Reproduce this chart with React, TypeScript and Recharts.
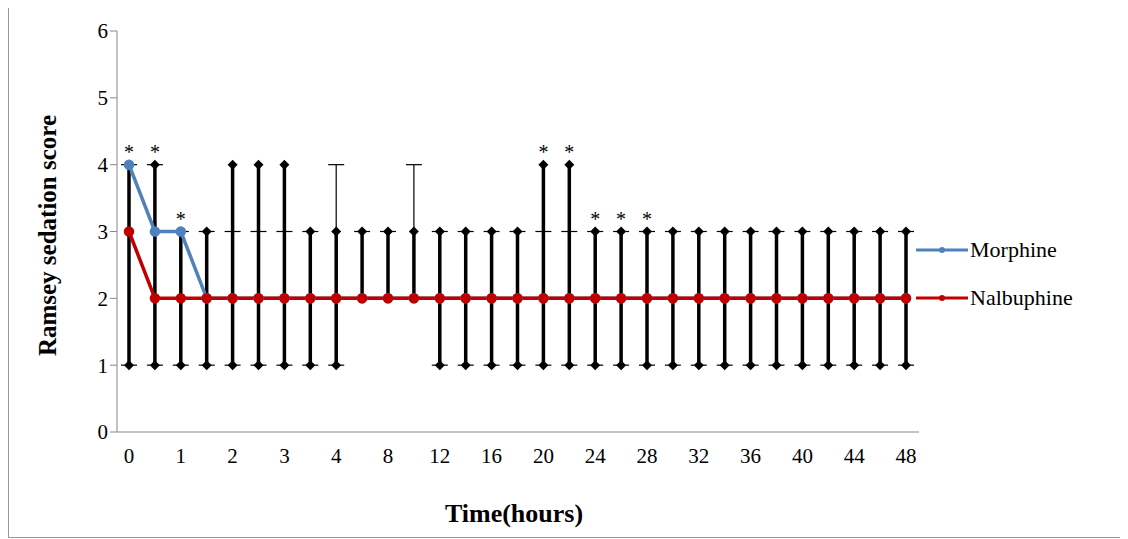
import React from 'react';
import { LineChart, Line, XAxis, YAxis, ErrorBar, Legend } from 'recharts';

const times = ['0', '0.5', '1', '1.5', '2', '2.5', '3', '3.5', '4', '6', '8', '10', '12', '14', '16', '18', '20', '22', '24', '26', '28', '30', '32', '34', '36', '38', '40', '42', '44', '46', '48'];
const morphine = [4, 3, 3, 2, 2, 2, 2, 2, 2, 2, 2, 2, 2, 2, 2, 2, 2, 2, 2, 2, 2, 2, 2, 2, 2, 2, 2, 2, 2, 2, 2];
const nalbuphine = [3, 2, 2, 2, 2, 2, 2, 2, 2, 2, 2, 2, 2, 2, 2, 2, 2, 2, 2, 2, 2, 2, 2, 2, 2, 2, 2, 2, 2, 2, 2];
const morphineHigh = [4, 4, 3, 3, 3, 3, 3, 3, 4, 3, 3, 4, 3, 3, 3, 3, 3, 3, 3, 3, 3, 3, 3, 3, 3, 3, 3, 3, 3, 3, 3];
const morphineLow = [1, 1, 1, 1, 1, 1, 1, 1, 1, 2, 2, 2, 1, 1, 1, 1, 1, 1, 1, 1, 1, 1, 1, 1, 1, 1, 1, 1, 1, 1, 1];
const nalbuphineHigh = [4, 4, 3, 3, 4, 4, 4, 3, 3, 3, 3, 3, 3, 3, 3, 3, 4, 4, 3, 3, 3, 3, 3, 3, 3, 3, 3, 3, 3, 3, 3];
const nalbuphineLow = [1, 1, 1, 1, 1, 1, 1, 1, 1, 2, 2, 2, 1, 1, 1, 1, 1, 1, 1, 1, 1, 1, 1, 1, 1, 1, 1, 1, 1, 1, 1];
// significance markers: value = height of the bar top they sit on
const stars = [4, 4, 3, null, null, null, null, null, null, null, null, null, null, null, null, null, 4, 4, 3, 3, 3, null, null, null, null, null, null, null, null, null, null];

const data = times.map((t, i) => ({
  t,
  morphine: morphine[i],
  nalbuphine: nalbuphine[i],
  mErr: [morphine[i] - morphineLow[i], morphineHigh[i] - morphine[i]],
  nErr: [nalbuphine[i] - nalbuphineLow[i], nalbuphineHigh[i] - nalbuphine[i]],
  nHigh: nalbuphineHigh[i],
  nLow: nalbuphineLow[i],
  star: stars[i],
}));

const font = '"Liberation Serif", "Times New Roman", serif';

const Diamond = (props: any) => {
  const { cx, cy } = props;
  if (cx == null || cy == null) return null;
  return <path d={`M${cx},${cy - 5}L${cx + 5},${cy}L${cx},${cy + 5}L${cx - 5},${cy}Z`} fill="#000" />;
};

const Star = (props: any) => {
  const { cx, cy, value } = props;
  if (value == null || cy == null) return null;
  return (
    <text x={cx} y={cy - 6} textAnchor="middle" fontSize={20} fontFamily={font} fill="#000">*</text>
  );
};

const LegendBox = () => (
  <div style={{ fontFamily: font, fontSize: 22 }}>
    {[
      { name: 'Morphine', color: '#4f81bd' },
      { name: 'Nalbuphine', color: '#c00000' },
    ].map((e) => (
      <div key={e.name} style={{ display: 'flex', alignItems: 'center', height: 48 }}>
        <svg width={52} height={12}>
          <line x1={0} y1={6} x2={52} y2={6} stroke={e.color} strokeWidth={3} />
          <circle cx={26} cy={6} r={3} fill={e.color} />
        </svg>
        <span style={{ marginLeft: 2 }}>{e.name}</span>
      </div>
    ))}
  </div>
);

export default function App() {
  return (
    <div style={{ position: 'relative', width: 1120, height: 529, borderLeft: '1px solid #999', borderBottom: '1px solid #999' }}>
      <LineChart width={1110} height={528} data={data} margin={{ top: 23, right: 0, left: 48, bottom: 60 }}>
        <XAxis
          dataKey="t"
          interval={1}
          tickLine={false}
          padding={{ left: 12, right: 13 }}
          axisLine={{ stroke: '#888' }}
          tick={{ fontSize: 21, fontFamily: font, fill: '#000' }}
          tickMargin={10}
          height={44}
          label={{ value: 'Time(hours)', position: 'insideBottom', offset: -46, dx: -4, style: { fontSize: 26, fontWeight: 'bold', fontFamily: font, fill: '#000' } }}
        />
        <YAxis
          domain={[0, 6]}
          ticks={[0, 1, 2, 3, 4, 5, 6]}
          width={60}
          axisLine={{ stroke: '#888' }}
          tickLine={{ stroke: '#888' }}
          tickSize={7}
          tick={{ fontSize: 21, fontFamily: font, fill: '#000' }}
          label={{ value: 'Ramsey sedation score', angle: -90, position: 'insideLeft', offset: -10, dy: 4, style: { textAnchor: 'middle', fontSize: 25, fontWeight: 'bold', fontFamily: font, fill: '#000' } }}
        />
        <Legend layout="vertical" align="right" verticalAlign="top" content={<LegendBox />} wrapperStyle={{ left: 907, top: 218, width: 200 }} />
        <Line dataKey="nalbuphine" stroke="none" dot={false} legendType="none" isAnimationActive={false}>
          <ErrorBar dataKey="nErr" width={0} stroke="#000" strokeWidth={3.5} direction="y" />
        </Line>
        <Line dataKey="morphine" stroke="none" dot={false} legendType="none" isAnimationActive={false}>
          <ErrorBar dataKey="mErr" width={8} stroke="#000" strokeWidth={1.2} direction="y" />
        </Line>
        <Line dataKey="nHigh" stroke="none" dot={<Diamond />} activeDot={false} legendType="none" isAnimationActive={false} />
        <Line dataKey="nLow" stroke="none" dot={<Diamond />} activeDot={false} legendType="none" isAnimationActive={false} />
        <Line dataKey="morphine" name="Morphine" stroke="#4f81bd" strokeWidth={3.5} dot={{ r: 3.5, fill: '#4f81bd', stroke: '#4f81bd' }} isAnimationActive={false} />
        <Line dataKey="nalbuphine" name="Nalbuphine" stroke="#c00000" strokeWidth={3.5} dot={{ r: 3.5, fill: '#c00000', stroke: '#c00000' }} isAnimationActive={false} />
        <Line dataKey="star" stroke="none" dot={<Star />} activeDot={false} legendType="none" isAnimationActive={false} connectNulls={false} />
      </LineChart>
    </div>
  );
}
